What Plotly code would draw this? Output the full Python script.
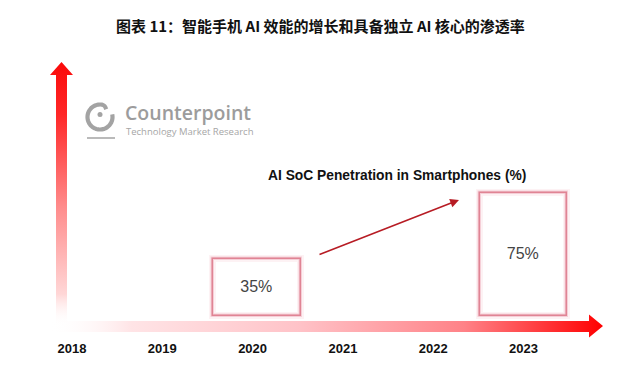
import numpy as np
import plotly.graph_objects as go

# ---------------- data ----------------
years = [2018, 2019, 2020, 2021, 2022, 2023]
year_labels = ["2018", "2019", "2020", "2021", "2022", "2023"]
bar_years = [2020, 2023]
penetration = [35, 75]
bar_labels = ["35%", "75%"]

title = "图表 11：智能手机 AI 效能的增长和具备独立 AI 核心的渗透率"
subtitle = "AI SoC Penetration in Smartphones (%)"

W, H = 640, 376
OFF = 8  # page body margin offset
FONT = "Liberation Sans, Arial, sans-serif"
CJK = "Noto Sans CJK SC, sans-serif"

fig = go.Figure()

# ---------- bars with soft red glow (main data axes) ----------
bar_offsets = [-0.435, -0.485]
glow = [
    (7, "rgba(235,130,150,0.10)", "white"),
    (3.5, "rgba(228,120,140,0.28)", "rgba(0,0,0,0)"),
    (1.5, "rgba(215,100,120,0.7)", "rgba(0,0,0,0)"),
]
for i, (lw, lc, fc) in enumerate(glow):
    last = i == len(glow) - 1
    fig.add_trace(go.Bar(
        x=bar_years, y=penetration, width=0.97, offset=bar_offsets,
        marker=dict(color=fc, line=dict(color=lc, width=lw)),
        text=bar_labels if last else None,
        textposition="inside" if last else "none",
        insidetextanchor="middle",
        textfont=dict(family=FONT, size=16, color="#444444"),
        hoverinfo="skip", showlegend=False,
    ))

# year labels through the x scale
fig.add_trace(go.Scatter(
    x=years, y=[-20.8] * len(years), mode="text", text=year_labels,
    textfont=dict(family=FONT, size=13, color="#111111", weight="bold"),
    hoverinfo="skip", showlegend=False, cliponaxis=False,
))

# ---------- decorative pixel-space layer (x2/y2) ----------
vx = [56, 56, 50, 61.5, 73, 67, 67, 56]
vy = [326, 75, 75, 62, 75, 75, 326, 326]
fig.add_trace(go.Scatter(
    x=vx, y=vy, xaxis="x2", yaxis="y2", mode="lines", line=dict(width=0),
    fill="toself",
    fillgradient=dict(type="vertical", start=326, stop=62,
                      colorscale=[[0, "rgba(255,255,255,0)"], [0.12, "rgba(255,215,215,1)"],
                                  [0.45, "rgb(255,140,140)"], [0.8, "rgb(255,40,40)"],
                                  [1, "rgb(250,10,10)"]]),
    hoverinfo="skip", showlegend=False,
))
hx = [48, 589, 589, 603, 589, 589, 48, 48]
hy = [321, 321, 314.5, 326, 337.5, 332, 332, 321]
fig.add_trace(go.Scatter(
    x=hx, y=hy, xaxis="x2", yaxis="y2", mode="lines", line=dict(width=0),
    fill="toself",
    fillgradient=dict(type="horizontal", start=48, stop=603,
                      colorscale=[[0, "rgba(255,255,255,0)"], [0.15, "rgb(255,228,230)"],
                                  [0.45, "rgb(255,195,200)"], [0.75, "rgb(255,130,135)"],
                                  [1, "rgb(255,0,0)"]]),
    hoverinfo="skip", showlegend=False,
))

# logo icon: open circle with small hook + dot + underline
cx, cy, r = 100, 117, 12.5
ang = np.radians(np.linspace(80, 372, 80))
arc_x = list(cx + r * np.cos(ang))
arc_y = list(cy - r * np.sin(ang))
# hook at the top end curling inward
hook_x = [cx + r * np.cos(np.radians(80)) + d for d in (0, 2.5, 4.0)]
hook_y = [cy - r * np.sin(np.radians(80)) + d for d in (0, 1.5, 4.5)]
fig.add_trace(go.Scatter(
    x=hook_x[::-1] + arc_x, y=hook_y[::-1] + arc_y, xaxis="x2", yaxis="y2",
    mode="lines", line=dict(color="#a3a3a3", width=4.2, shape="spline"),
    hoverinfo="skip", showlegend=False,
))
fig.add_trace(go.Scatter(
    x=[100], y=[114.5], xaxis="x2", yaxis="y2", mode="markers",
    marker=dict(color="#a3a3a3", size=5), hoverinfo="skip", showlegend=False,
))
fig.add_trace(go.Scatter(
    x=[87, 115], y=[138, 138], xaxis="x2", yaxis="y2", mode="lines",
    line=dict(color="#a3a3a3", width=1.5), hoverinfo="skip", showlegend=False,
))

annotations = [
    dict(text=f"<b>{title}</b>", x=320, y=25, xref="x2", yref="y2", showarrow=False,
         font=dict(family=CJK, size=15, color="#111111")),
    dict(text=f"<b>{subtitle}</b>", x=397, y=175, xref="x2", yref="y2", showarrow=False,
         font=dict(family=FONT, size=13.8, color="#111111")),
    dict(text="Counterpoint", x=123, y=112, xref="x2", yref="y2", xanchor="left",
         showarrow=False,
         font=dict(family="Open Sans, sans-serif", size=19.5, color="#9c9c9c", weight=600)),
    dict(text="Technology Market Research", x=124, y=131.5, xref="x2", yref="y2", xanchor="left",
         showarrow=False, font=dict(family="Open Sans, sans-serif", size=9.5, color="#a6a6a6")),
    dict(text="", x=459, y=200, ax=318, ay=255, xref="x2", yref="y2", axref="x2", ayref="y2",
         showarrow=True, arrowhead=2, arrowsize=1.1, arrowwidth=1.6, arrowcolor="#b71c24"),
]

px0, ppu_x = 72.0 - OFF, 90.3   # figure pixel of 2018, px per year
py0, ppu_y = 316.0 - OFF, 1.635  # figure pixel of 0 %, px per %
fig.update_layout(
    width=W, height=H, margin=dict(l=0, r=0, t=0, b=0),
    paper_bgcolor="white", plot_bgcolor="white",
    barmode="overlay", bargap=0,
    xaxis=dict(range=[2018 - px0 / ppu_x, 2018 + (W - px0) / ppu_x], visible=False, fixedrange=True),
    yaxis=dict(range=[(py0 - H) / ppu_y, py0 / ppu_y], visible=False, fixedrange=True),
    xaxis2=dict(range=[OFF, W + OFF], overlaying="x", visible=False, fixedrange=True),
    yaxis2=dict(range=[H + OFF, OFF], overlaying="y", visible=False, fixedrange=True),
    annotations=annotations,
    showlegend=False,
)

fig.write_html("out.html")
